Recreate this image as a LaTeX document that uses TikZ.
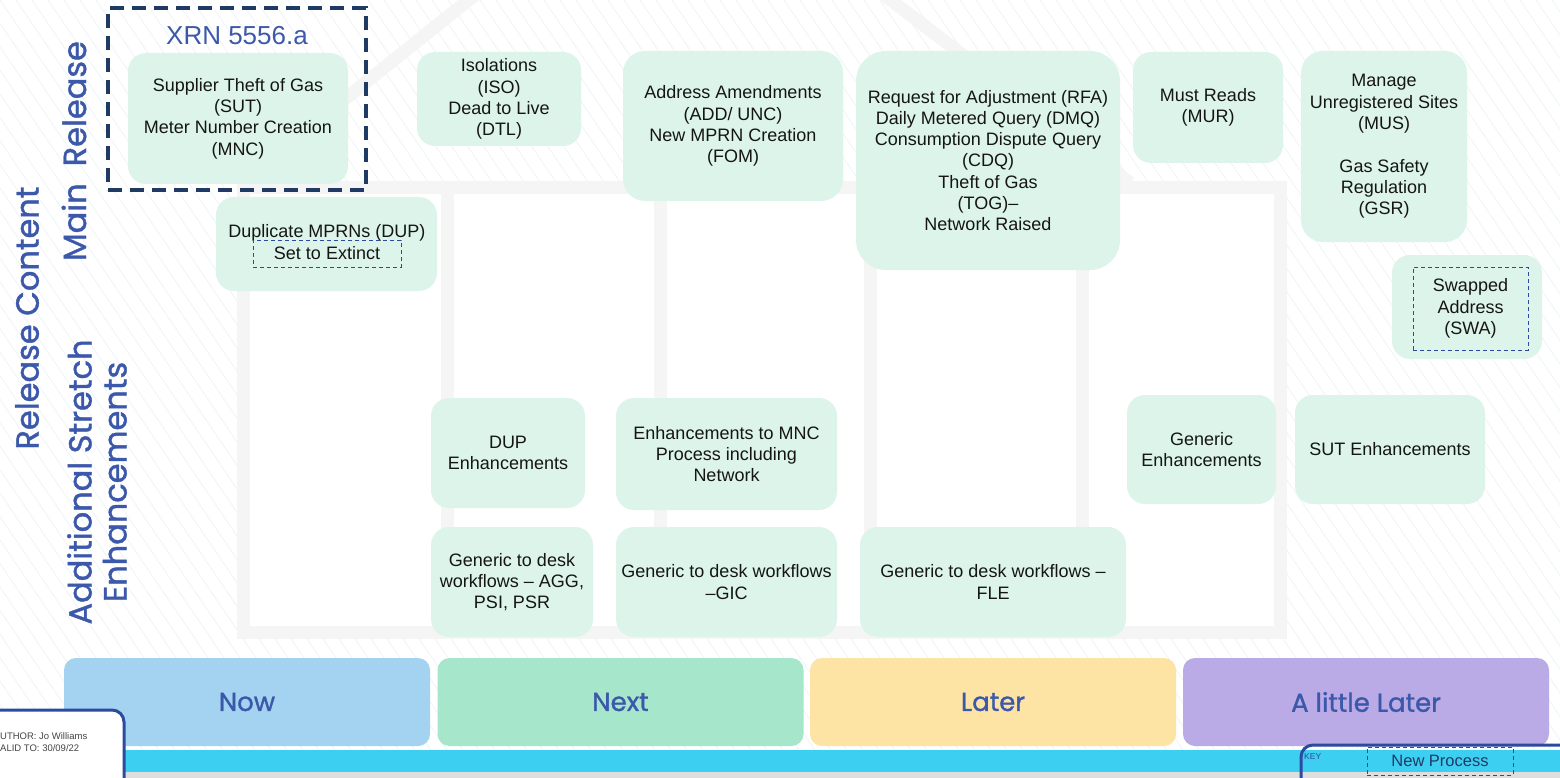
\documentclass[tikz,border=0pt]{standalone}
\usepackage{fontspec}
\setmainfont{Liberation Sans}
\newfontfamily\headfont{Poppins}[FakeBold=1.2]
\usetikzlibrary{positioning}

\definecolor{taskgreen}{HTML}{DDF4EB}
\definecolor{inkdark}{HTML}{151515}
\definecolor{headblue}{HTML}{3C58AA}
\definecolor{framenavy}{HTML}{1F3B64}
\definecolor{linenavy}{HTML}{2C4A9E}
\definecolor{nowblue}{HTML}{A3D3F0}
\definecolor{nextgreen}{HTML}{A6E6CB}
\definecolor{lateryellow}{HTML}{FDE3A4}
\definecolor{alaterpurple}{HTML}{BAABE6}
\definecolor{stripcyan}{HTML}{3DCFF2}
\definecolor{housegray}{HTML}{F5F5F5}
\definecolor{hatchblue}{HTML}{EFF5F8}

\begin{document}
\begin{tikzpicture}
  [
    x=1pt, y=-1pt,
    Task/.style={rectangle, rounded corners=18pt, fill=taskgreen, align=center, text=inkdark, inner sep=2pt, font=\fontsize{18}{21.3}\selectfont},
    Plain/.style={align=center, text=inkdark, inner sep=1pt, font=\fontsize{18}{21.3}\selectfont},
    Inner/.style={rectangle, draw=linenavy, dash pattern=on 4pt off 3pt, line width=1pt, align=center, text=inkdark, font=\fontsize{18}{21.3}\selectfont},
    Frame/.style={rectangle, draw=framenavy, line width=3.5pt, dash pattern=on 14pt off 8pt},
    Side/.style={align=center, text=headblue, font=\headfont\fontsize{32}{35}\selectfont},
    Phase/.style={rectangle, rounded corners=12pt, minimum width=366, minimum height=88, text=headblue, font=\headfont\fontsize{26}{30}\selectfont},
    Edge/.style={rectangle, rounded corners=12pt, draw=linenavy, line width=3pt, fill=white},
    Small/.style={anchor=west, inner sep=0pt, text=inkdark!80, font=\fontsize{9.5}{11}\selectfont},
    Hatch/.style={draw=hatchblue, line width=0.9pt},
    House/.style={draw=housegray, line width=13pt}
  ]
  \useasboundingbox (0,0) rectangle (1560,778);

  % Background
  \begin{scope}
    \clip (0,0) rectangle (1560,778);
    \fill[white] (0,0) rectangle (1560,778);
    \foreach \i in {-560,-544,...,1560}
      \draw[Hatch] (\i,0) -- ++(530,778);
    \draw[House] (240,183) -- (675,-165) -- (1130,183);
    \draw[House, fill=white] (243,188) rectangle (1280,632);
    \foreach \c in {447,660,870,1082}
      \draw[House] (\c,188) -- (\c,632);
  \end{scope}

  % Side labels
  \node[Side, rotate=90] (content) at (27,318) {Release Content};
  \node[Side, rotate=90] (mainrel) at (74,151) {Main\ \ Release};
  \node[Side, rotate=90] (stretch) at (97,482) {Additional Stretch\\Enhancements};

  % Main release
  \node[Frame, minimum width=258, minimum height=182] (xrn) at (237,99) {};
  \node[text=headblue, font=\fontsize{26}{30}\selectfont] (xrnlabel) at (237,36) {XRN 5556.a};
  \node[Task, minimum width=220, minimum height=131] (sut) at (238,118.5) {Supplier Theft of Gas\\(SUT)\\Meter Number Creation\\(MNC)};
  \node[Task, minimum width=164, minimum height=94] (iso) at (499,99) {Isolations\\(ISO)\\Dead to Live\\(DTL)};
  \node[Task, minimum width=220, minimum height=150, rounded corners=22pt] (add) at (733,126) {Address Amendments\\(ADD/ UNC)\\New MPRN Creation\\(FOM)};
  \node[Task, minimum width=264, minimum height=219, rounded corners=30pt] (rfa) at (988,160.5) {Request for Adjustment (RFA)\\Daily Metered Query (DMQ)\\Consumption Dispute Query\\(CDQ)\\Theft of Gas\\(TOG)--\\Network Raised};
  \node[Task, minimum width=150, minimum height=111] (mur) at (1208,107.5) {Must Reads\\(MUR)};
  \node[Task, minimum width=166, minimum height=191, rounded corners=22pt] (mus) at (1384,146.5) {Manage\\Unregistered Sites\\(MUS)\\[21.3pt]Gas Safety\\Regulation\\(GSR)};
  \node[Task, minimum width=221, minimum height=94] (dup) at (326.5,244) {};
  \node[Plain] (duptitle) at (327,233) {Duplicate MPRNs (DUP)};
  \node[Inner, minimum width=148, minimum height=27] (extinct) at (327,253.5) {Set to Extinct};
  \node[Task, minimum width=150, minimum height=104] (swa) at (1467,307) {};
  \node[Inner, minimum width=115, minimum height=83] (swainner) at (1470.5,308.5) {Swapped\\Address\\(SWA)};

  % Stretch enhancements
  \node[Task, minimum width=154, minimum height=110] (dupenh) at (508,453) {DUP\\Enhancements};
  \node[Task, minimum width=221, minimum height=112] (mncenh) at (726.5,454) {Enhancements to MNC\\Process including\\Network};
  \node[Task, minimum width=149, minimum height=109] (genenh) at (1201.5,449.5) {Generic\\Enhancements};
  \node[Task, minimum width=190, minimum height=109] (sutenh) at (1390,449.5) {SUT Enhancements};
  \node[Task, minimum width=162, minimum height=110] (agg) at (512,582) {Generic to desk\\workflows -- AGG,\\PSI, PSR};
  \node[Task, minimum width=221, minimum height=110] (gic) at (726.5,582) {Generic to desk workflows\\--GIC};
  \node[Task, minimum width=266, minimum height=110] (fle) at (993,582) {Generic to desk workflows --\\FLE};

  % Timeline
  \fill[stripcyan] (0,750) rectangle (1560,772);
  \fill[black!13] (0,772) rectangle (1560,778);
  \node[Phase, fill=nowblue] (now) at (247,702) {Now};
  \node[Phase, fill=nextgreen] (next) at (620.5,702) {Next};
  \node[Phase, fill=lateryellow] (later) at (993,702) {Later};
  \node[Phase, fill=alaterpurple] (alater) at (1366,702) {A little Later};

  % Author and key
  \begin{scope}
    \clip (0,0) rectangle (1560,778);
    \draw[Edge] (-20,710) rectangle (124,800);
    \draw[Edge, fill=none] (1301,745) rectangle (1600,800);
  \end{scope}
  \node[Small] (author) at (0,736) {UTHOR: Jo Williams};
  \node[Small] (valid) at (0,748) {ALID TO: 30/09/22};
  \node[Small, text=linenavy, font=\fontsize{8.5}{10}\selectfont] (key) at (1304,757) {KEY};
  \node[Inner, minimum width=146, minimum height=28, text=framenavy, font=\fontsize{16.5}{19}\selectfont] (newproc) at (1440,761) {New Process};

\end{tikzpicture}
\end{document}
